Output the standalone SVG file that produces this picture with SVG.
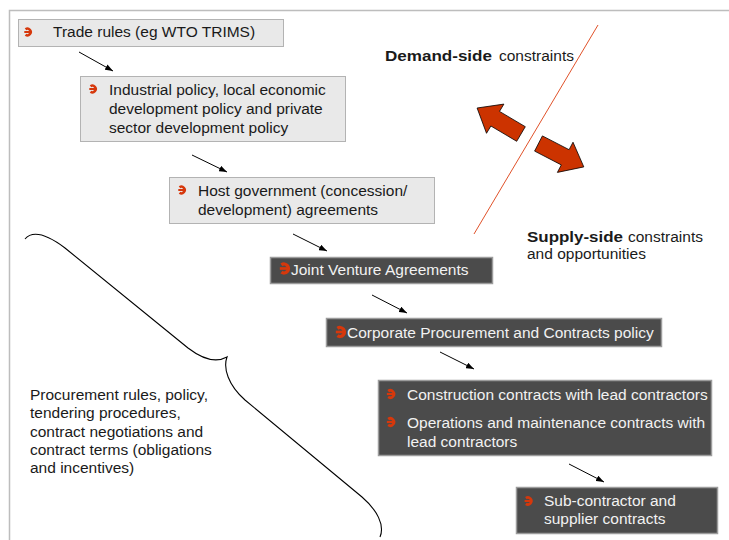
<svg xmlns="http://www.w3.org/2000/svg" width="729" height="540" viewBox="0 0 729 540">
<style>
text{font-family:"Liberation Sans",Arial,sans-serif;font-size:15.5px;fill:#1a1a1a}
.w{fill:#f2f2f2}
.b{font-weight:bold}
.light{fill:#e9e9e9;stroke:#b3b3b3;stroke-width:1}
.dark{fill:#4b4b4b;stroke:#9c9c9c;stroke-width:1.5}
.con{stroke:#000;stroke-width:1;fill:none}
.bul{fill:none;stroke:#d6380c}
</style>
<defs>
<marker id="ah" markerUnits="userSpaceOnUse" markerWidth="8" markerHeight="6" refX="8" refY="3" orient="auto">
<path d="M0,0 L8,3 L0,6 z" fill="#000"/>
</marker>
<g id="bullet" class="bul">
<path d="M-3,-2.7 A3.3,3.3 0 1 1 -3,2.7" stroke-width="2.5"/>
<path d="M-4.2,0 H1.6" stroke-width="2"/>
</g>
</defs>
<rect width="729" height="540" fill="#fff"/>
<g id="frame" stroke="#bdbdbd" stroke-width="1.5" fill="none">
<path d="M9.5,540 V10.5 H729"/>
</g>
<g id="connectors">
<line class="con" x1="79" y1="52" x2="113" y2="71" marker-end="url(#ah)"/>
<line class="con" x1="192" y1="155" x2="227" y2="172" marker-end="url(#ah)"/>
<line class="con" x1="293" y1="234" x2="327" y2="251" marker-end="url(#ah)"/>
<line class="con" x1="372" y1="295" x2="407" y2="313" marker-end="url(#ah)"/>
<line class="con" x1="440" y1="352" x2="474" y2="369" marker-end="url(#ah)"/>
<line class="con" x1="569" y1="464" x2="604" y2="482" marker-end="url(#ah)"/>
</g>
<g id="divider">
<line x1="598" y1="25" x2="474" y2="234" stroke="#e0522a" stroke-width="1"/>
<polygon points="525.3,126.7 499.5,111.4 503.9,104.1 477.1,108.0 486.5,133.3 490.9,126.0 516.7,141.3" fill="#cc3300" stroke="#000" stroke-width="0.8"/>
<polygon points="542.4,135.9 569.1,149.7 573.0,142.2 583.8,166.9 557.4,172.4 561.3,164.9 534.6,151.1" fill="#cc3300" stroke="#000" stroke-width="0.8"/>
</g>
<g id="demand">
<text x="385" y="61" class="b" textLength="107" lengthAdjust="spacingAndGlyphs">Demand-side</text>
<text x="499" y="61">constraints</text>
</g>
<g id="supply">
<text x="527" y="242" class="b" textLength="96" lengthAdjust="spacingAndGlyphs">Supply-side</text>
<text x="628" y="242">constraints</text>
<text x="527" y="259">and opportunities</text>
</g>
<g id="n1">
<rect class="light" x="18.5" y="19.5" width="265" height="27"/>
<use href="#bullet" x="28.5" y="32"/>
<text x="53" y="37">Trade rules (eg WTO TRIMS)</text>
</g>
<g id="n2">
<rect class="light" x="80.5" y="76.5" width="265" height="65"/>
<use href="#bullet" x="93.5" y="89"/>
<text x="109" y="95">Industrial policy, local economic</text>
<text x="109" y="114">development policy and private</text>
<text x="109" y="133">sector development policy</text>
</g>
<g id="n3">
<rect class="light" x="169.5" y="177.5" width="265" height="46"/>
<use href="#bullet" x="182.5" y="190"/>
<text x="198" y="196">Host government (concession/</text>
<text x="198" y="215">development) agreements</text>
</g>
<g id="n4">
<rect class="dark" x="270.5" y="257.5" width="222" height="26"/>
<use href="#bullet" transform="translate(285.5,268.5) scale(1.35)"/>
<text x="291" y="275" class="w">Joint Venture Agreements</text>
</g>
<g id="n5">
<rect class="dark" x="326.5" y="318.5" width="335" height="28"/>
<use href="#bullet" transform="translate(341.5,332) scale(1.35)"/>
<text x="347" y="338" class="w">Corporate Procurement and Contracts policy</text>
</g>
<g id="n6">
<rect class="dark" x="378.5" y="380.5" width="333" height="75"/>
<use href="#bullet" transform="translate(391.5,394) scale(1.1)"/>
<text x="407" y="400" class="w">Construction contracts with lead contractors</text>
<use href="#bullet" transform="translate(391.5,422) scale(1.1)"/>
<text x="407" y="428" class="w">Operations and maintenance contracts with</text>
<text x="407" y="447" class="w">lead contractors</text>
</g>
<g id="n7">
<rect class="dark" x="516.5" y="487.5" width="201" height="46"/>
<use href="#bullet" transform="translate(529,501) scale(1.05)"/>
<text x="544" y="506" class="w">Sub-contractor and</text>
<text x="544" y="524" class="w">supplier contracts</text>
</g>
<g id="brace">
<path d="M25,239 C32,231 45,233 65,248 L188,348 C205,361 218,362 227,357 C223,368 228,385 245,400 L362,497 C377,510 385,525 380,537" fill="none" stroke="#000" stroke-width="1.1"/>
</g>
<g id="procurement">
<text x="30" y="400">Procurement rules, policy,</text>
<text x="30" y="418">tendering procedures,</text>
<text x="30" y="437">contract negotiations and</text>
<text x="30" y="455">contract terms (obligations</text>
<text x="30" y="473">and incentives)</text>
</g>
</svg>
